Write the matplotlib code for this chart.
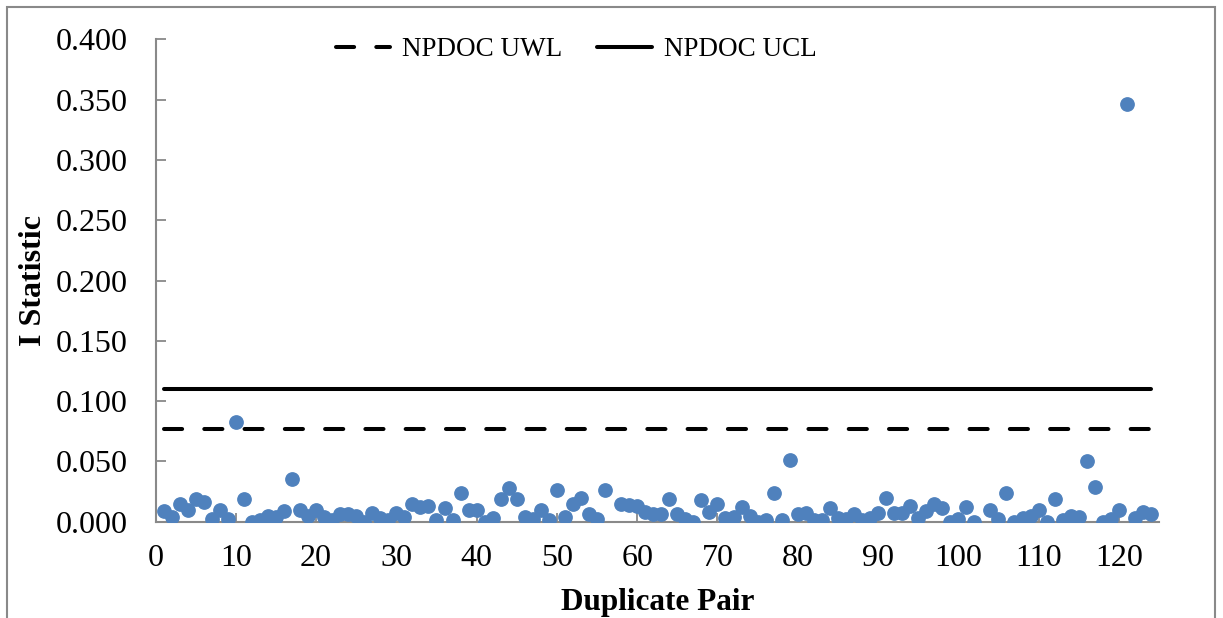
import numpy as np
import matplotlib
matplotlib.use("Agg")
import matplotlib.pyplot as plt
from matplotlib.patches import Rectangle

# ---- data ----
pair = list(range(1, 125))
i_stat = [
    0.009, 0.004, 0.015, 0.010, 0.019, 0.016, 0.002, 0.010, 0.002, 0.083,
    0.019, 0.000, 0.001, 0.005, 0.004, 0.009, 0.035, 0.010, 0.005, 0.010,
    0.004, 0.001, 0.006, 0.006, 0.005, 0.000, 0.007, 0.003, 0.001, 0.007,
    0.004, 0.015, 0.012, 0.013, 0.001, 0.011, 0.001, 0.024, 0.010, 0.010,
    0.000, 0.003, 0.019, 0.028, 0.019, 0.004, 0.002, 0.010, 0.001, 0.026,
    0.004, 0.015, 0.020, 0.006, 0.002, 0.026, np.nan, 0.015, 0.014, 0.013,
    0.008, 0.006, 0.006, 0.019, 0.006, 0.002, 0.000, 0.018, 0.008, 0.015,
    0.003, 0.004, 0.012, 0.005, 0.000, 0.001, 0.024, 0.001, 0.051, 0.006,
    0.007, 0.001, 0.001, 0.011, 0.003, 0.002, 0.006, 0.001, 0.003, 0.007,
    0.020, 0.007, 0.007, 0.013, 0.003, 0.009, 0.015, 0.011, 0.000, 0.002,
    0.012, 0.000, np.nan, 0.010, 0.002, 0.024, 0.000, 0.003, 0.005, 0.010,
    0.000, 0.019, 0.001, 0.005, 0.004, 0.050, 0.029, 0.000, 0.002, 0.010,
    0.346, 0.003, 0.008, 0.006,
]
uwl_value = 0.077
ucl_value = 0.110
uwl = [uwl_value] * len(pair)
ucl = [ucl_value] * len(pair)
y_ticks = [0.0, 0.05, 0.10, 0.15, 0.20, 0.25, 0.30, 0.35, 0.40]
x_ticks = list(range(0, 121, 10))

# ---- style ----
plt.rcParams['font.family'] = ['Liberation Serif', 'DejaVu Serif']
W, H = 1223, 618
fig = plt.figure(figsize=(W / 100, H / 100), dpi=100)
ax = fig.add_axes([155.5 / W, 1 - 521.7 / H, (1159 - 155.5) / W, (521.7 - 39.3) / H])

grey = '#898989'
blue = '#4F81BD'
lw = 2.9

l1, = ax.plot(pair, uwl, color='black', lw=lw, linestyle=(0, (4.5, 5.5)),
              dash_capstyle='round', solid_capstyle='round', label='NPDOC UWL', zorder=2)
l2, = ax.plot(pair, ucl, color='black', lw=lw, solid_capstyle='round',
              label='NPDOC UCL', zorder=2)
ax.plot(pair, i_stat, linestyle='none', marker='o', markersize=9.6,
        markerfacecolor=blue, markeredgecolor=blue, zorder=3)

ax.set_xlim(0, 125)
ax.set_ylim(0, 0.4)
ax.set_xticks(x_ticks)
ax.set_yticks(y_ticks)
ax.set_yticklabels([f"{v:.3f}" for v in y_ticks])

for s in ['top', 'right']:
    ax.spines[s].set_visible(False)
for s in ['left', 'bottom']:
    ax.spines[s].set_color(grey)
    ax.spines[s].set_linewidth(1.5)

ax.tick_params(axis='both', direction='in', color=grey, width=1.3, labelsize=23)
ax.tick_params(axis='y', length=7, pad=20)
ax.tick_params(axis='x', length=6.5, pad=16)

ax.set_xlabel('Duplicate Pair', fontsize=22.5, fontweight='bold')
ax.set_ylabel('I Statistic', fontsize=23, fontweight='bold')
ax.xaxis.set_label_coords(0.5, -0.138)
ax.yaxis.set_label_coords(-0.107, 0.5)

leg = ax.legend(handles=[l1, l2], loc='center', ncol=2, frameon=False,
                fontsize=19.5, handlelength=2.0, handletextpad=0.45,
                columnspacing=1.3)
leg.set_bbox_to_anchor(((576 - 155.5) / 1003.5, (521.7 - 50) / 482.4), transform=ax.transAxes)

# figure border
fig.patches.append(Rectangle((7 / W, -0.05), (1215 - 7) / W, 1.05 - 7 / H,
                             transform=fig.transFigure, fill=False,
                             edgecolor=grey, linewidth=1.5))

fig.savefig('out.png', dpi=100)
